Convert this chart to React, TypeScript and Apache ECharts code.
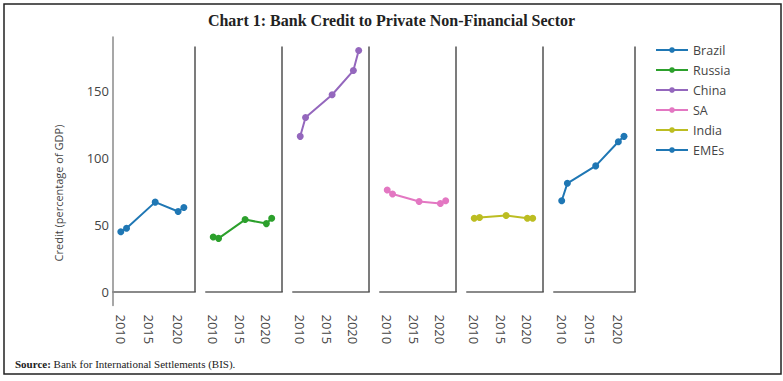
import React, { useEffect, useRef } from "react";
import * as echarts from "echarts";

const YEARS = [2010, 2011, 2016, 2020, 2021];
const COUNTRIES = ["Brazil", "Russia", "China", "SA", "India", "EMEs"];
const BRAZIL = [45, 47.5, 67, 60, 63];
const RUSSIA = [41, 40, 54, 51, 55];
const CHINA = [116, 130, 147, 165, 180];
const SA = [76, 73, 67.5, 66, 68];
const INDIA = [55, 55.5, 57, 55, 55];
const EMES = [68, 81, 94, 112, 116];
const VALUES = [BRAZIL, RUSSIA, CHINA, SA, INDIA, EMES];
const X_TICKS = [2010, 2015, 2020];
const Y_TICKS = [0, 50, 100, 150];

const COLORS = ["#1f77b4", "#2ca02c", "#9467bd", "#e377c2", "#bcbd22", "#1f77b4"];
const PANELS = [
  { left: 113, width: 82 },
  { left: 206, width: 76 },
  { left: 293, width: 76 },
  { left: 380, width: 76 },
  { left: 467, width: 76 },
  { left: 554, width: 81 },
];
const X_MIN = 2008.64;
const X_MAX = 2022.94;
const Y_MIN = -10;
const Y_MAX = 190;
const FRAME_TOP = 183;

export default function App() {
  const ref = useRef<HTMLDivElement>(null);
  useEffect(() => {
    if (!ref.current) return;
    const chart = echarts.init(ref.current, null, { renderer: "svg" });
    const grids = PANELS.map((p) => ({ left: p.left, width: p.width, top: 37, height: 268.5 }));
    const xAxes = PANELS.map((_, i) => ({
      type: "value",
      gridIndex: i,
      min: X_MIN,
      max: X_MAX,
      axisLine: { show: true, onZero: true, lineStyle: { color: "#8a8a8a", width: 2 } },
      axisTick: { show: false },
      splitLine: { show: false },
      axisLabel: {
        customValues: X_TICKS,
        rotate: -90,
        margin: 9,
        padding: [0, 0, 5, 0],
        color: "#444",
        fontSize: 13,
        fontFamily: "Open Sans",
        formatter: (v: number) => String(v),
      },
    }));
    const yAxes = PANELS.map((_, i) => ({
      type: "value",
      gridIndex: i,
      min: Y_MIN,
      max: Y_MAX,
      show: i === 0,
      axisLine: { show: i === 0, lineStyle: { color: "#8a8a8a", width: 1.5 } },
      axisTick: { show: false },
      splitLine: { show: false },
      axisLabel: {
        show: i === 0,
        customValues: Y_TICKS,
        margin: 4,
        color: "#444",
        fontSize: 13,
        fontFamily: "Open Sans",
      },
    }));
    const series = COUNTRIES.map((name, i) => ({
      name,
      type: "line",
      xAxisIndex: i,
      yAxisIndex: i,
      data: YEARS.map((y, k) => [y, VALUES[i][k]]),
      symbol: "circle",
      symbolSize: 7,
      color: COLORS[i],
      lineStyle: { width: 2, color: COLORS[i] },
      itemStyle: { color: COLORS[i] },
      markLine: {
        silent: true,
        symbol: ["none", "none"],
        label: { show: false },
        lineStyle: { color: "#505050", width: 1.5, type: "solid" },
        data: [[{ coord: [X_MAX, 0] }, { coord: [X_MAX, FRAME_TOP] }]],
      },
    }));
    chart.setOption({
      animation: false,
      backgroundColor: "#fff",
      title: {
        text: "Chart 1: Bank Credit to Private Non-Financial Sector",
        left: "center",
        top: 7,
        textStyle: { fontFamily: "Liberation Serif", fontWeight: "bold", fontSize: 16, color: "#222" },
      },
      legend: {
        orient: "vertical",
        left: 650,
        top: 38,
        itemWidth: 32,
        itemHeight: 7,
        itemGap: 6,
        data: COUNTRIES,
        textStyle: { fontFamily: "Open Sans", fontSize: 12.5, color: "#444", lineHeight: 14 },
      },
      grid: grids,
      xAxis: xAxes,
      yAxis: yAxes,
      series,
      graphic: [
        {
          type: "rect",
          shape: { x: 4, y: 4, width: 777, height: 370 },
          style: { fill: "none", stroke: "#222", lineWidth: 1.5 },
          silent: true,
        },
        {
          type: "text",
          x: 58,
          y: 193,
          rotation: Math.PI / 2,
          style: {
            text: "Credit (percentage of GDP)",
            fontFamily: "Open Sans",
            fontSize: 11,
            fill: "#444",
            align: "center",
            verticalAlign: "middle",
          },
        },
        {
          type: "text",
          x: 15,
          y: 364,
          style: {
            text: "{b|Source:} Bank for International Settlements (BIS).",
            fontFamily: "Liberation Serif",
            fontSize: 11,
            fill: "#222",
            verticalAlign: "middle",
            rich: { b: { fontWeight: "bold", fontFamily: "Liberation Serif", fontSize: 11, fill: "#222" } },
          },
        },
      ],
    });
    return () => chart.dispose();
  }, []);
  return <div ref={ref} style={{ position: "fixed", left: 0, top: 0, width: 783, height: 381 }} />;
}
